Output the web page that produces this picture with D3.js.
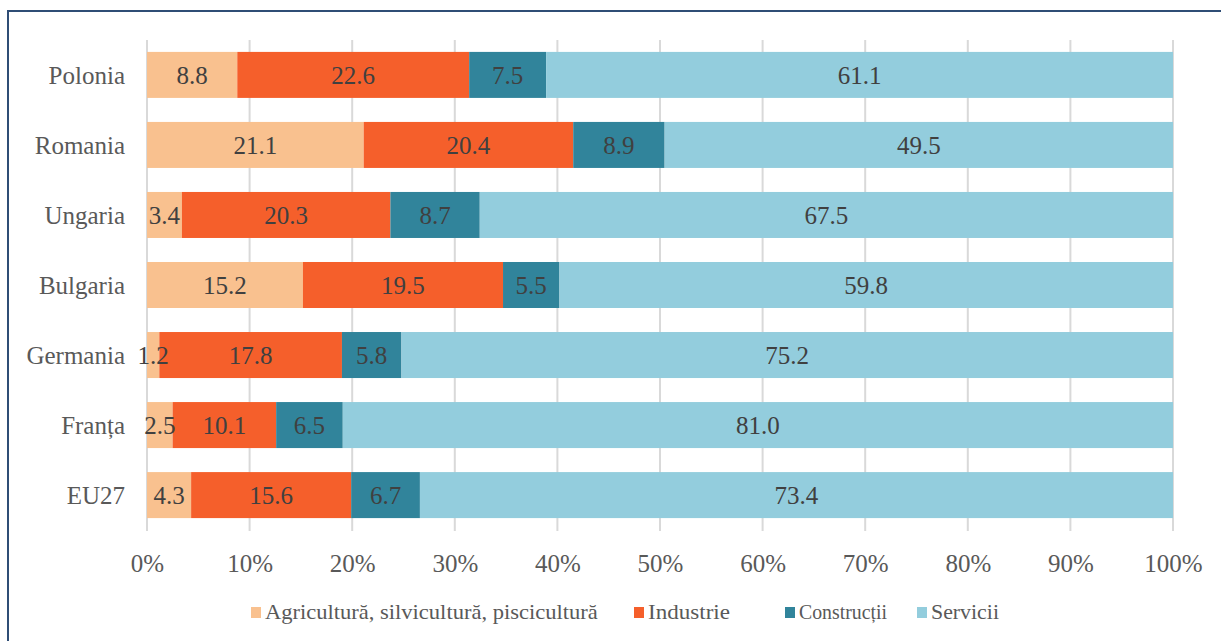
<!DOCTYPE html>
<html><head><meta charset="utf-8">
<script src="https://cdn.jsdelivr.net/npm/d3@7"></script>
<style>body{margin:0;background:#fff}svg{display:block}text{font-family:"Liberation Serif","DejaVu Serif",serif}</style>
</head><body><svg id="c" width="1221" height="641"></svg>
<script>
const categories = ["Polonia","Romania","Ungaria","Bulgaria","Germania","Franța","EU27"];
const seriesNames = ["Agricultură, silvicultură, piscicultură","Industrie","Construcții","Servicii"];
const agricultura = [8.8,21.1,3.4,15.2,1.2,2.5,4.3];
const industrie = [22.6,20.4,20.3,19.5,17.8,10.1,15.6];
const constructii = [7.5,8.9,8.7,5.5,5.8,6.5,6.7];
const servicii = [61.1,49.5,67.5,59.8,75.2,81.0,73.4];
const tickLabels = ["0%","10%","20%","30%","40%","50%","60%","70%","80%","90%","100%"];
const colors = ["#F9C18F","#F55F2B","#31849B","#93CDDD"];

const svg = d3.select("#c");
svg.append("rect").attr("x",8).attr("y",11).attr("width",1230).attr("height",640)
  .attr("fill","none").attr("stroke","#2F4D75").attr("stroke-width",2);

const x = d3.scaleLinear().domain([0,1]).range([147,1173]);
const y = d3.scaleBand().domain(categories).range([40,530]).paddingInner(0.343).paddingOuter(0.17);

const rows = categories.map((c,i)=>{
  const vals=[agricultura[i],industrie[i],constructii[i],servicii[i]];
  const tot=d3.sum(vals);
  return {c, vals, tot};
});
const stack = d3.stack().keys([0,1,2,3]).value((d,k)=>d.vals[k]/d.tot)(rows);

// gridlines
svg.append("g").selectAll("line").data(d3.range(0,1.0001,0.1)).join("line")
  .attr("x1",d=>x(d)).attr("x2",d=>x(d)).attr("y1",40).attr("y2",531)
  .attr("stroke","#D9D9D9").attr("stroke-width",2);

const g = svg.append("g");
stack.forEach((s,k)=>{
  g.append("g").selectAll("rect").data(s).join("rect")
   .attr("x",d=>x(d[0])).attr("width",d=>x(d[1])-x(d[0]))
   .attr("y",d=>y(d.data.c)).attr("height",y.bandwidth())
   .attr("fill",colors[k]);
});
stack.forEach((s,k)=>{
  g.append("g").selectAll("text").data(s).join("text")
   .attr("x",d=>(x(d[0])+x(d[1]))/2).attr("y",d=>y(d.data.c)+y.bandwidth()/2)
   .attr("dy","0.35em").attr("text-anchor","middle")
   .attr("font-size",25).attr("fill","#404040")
   .text(d=>d.data.vals[k].toFixed(1));
});

// category axis labels
svg.append("g").selectAll("text").data(categories).join("text")
  .attr("x",125).attr("y",d=>y(d)+y.bandwidth()/2).attr("dy","0.35em")
  .attr("text-anchor","end").attr("font-size",25).attr("fill","#595959").text(d=>d);

// x axis
const xa = d3.axisBottom(x).tickValues(d3.range(0,1.0001,0.1)).tickFormat((d,i)=>tickLabels[i]).tickSize(0).tickPadding(0);
const ax = svg.append("g").attr("transform","translate(0,563)").call(xa);
ax.select(".domain").remove();
ax.selectAll("text").attr("font-size",25).attr("fill","#595959").attr("dy","0.35em").attr("y",0)
  .style("font-family","'Liberation Serif',serif");

// legend
const legX = [251,634,785,917];
const legW = [333,82,88,68];
const lg = svg.append("g");
seriesNames.forEach((n,k)=>{
  lg.append("rect").attr("x",legX[k]).attr("y",607).attr("width",10).attr("height",11).attr("fill",colors[k]);
  const t = lg.append("text").attr("x",0).attr("y",0).attr("dy","0.35em")
    .attr("font-size",21).attr("fill","#595959").text(n);
  const w = t.node().getComputedTextLength();
  const sx = legW[k]/w;
  t.attr("transform",`translate(${legX[k]+14},612) scale(${sx},1)`);
});
</script></body></html>
